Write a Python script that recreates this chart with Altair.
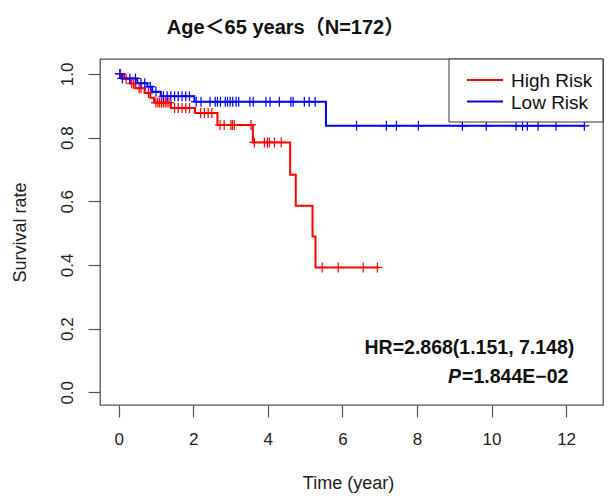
import altair as alt
import pandas as pd

FONT = "Liberation Sans, Arial, Noto Sans CJK SC, sans-serif"

groups = ["High Risk", "Low Risk"]
colors = ["#FF0000", "#0000FF"]

# Kaplan-Meier step curves (time of step, survival after step)
high_t = [0, 0.15, 0.3, 0.45, 0.7, 0.85, 0.95, 1.4, 2.05, 2.65, 3.6, 4.6, 4.75, 5.2, 5.28]
high_s = [1.0, 0.985, 0.970, 0.955, 0.940, 0.925, 0.910, 0.893, 0.877, 0.840, 0.785, 0.683, 0.586, 0.489, 0.392]
high_end = 6.97
high_cens = [0.05, 0.2, 0.35, 0.4, 0.55, 0.6, 0.8, 1.0, 1.05, 1.1, 1.15, 1.2, 1.25, 1.3, 1.35,
             1.5, 1.6, 1.7, 1.8, 1.9, 2.2, 2.3, 2.4, 2.5,
             2.72, 2.83, 3.01, 3.05, 3.10, 3.55,
             3.64, 3.91, 3.99, 4.04, 4.18, 4.36,
             5.46, 5.89, 6.56, 6.94]

low_t = [0, 0.07, 0.5, 0.77, 0.9, 1.13, 2.03, 5.56]
low_s = [1.0, 0.986, 0.971, 0.960, 0.944, 0.930, 0.913, 0.837]
low_end = 12.49
low_cens = [0.03, 0.1, 0.3, 0.45, 0.6, 0.7, 0.85, 1.0, 1.2, 1.3, 1.4, 1.5, 1.6, 1.7, 1.8, 1.9,
            2.08, 2.21, 2.45, 2.59, 2.65, 2.73, 2.86, 2.92, 2.99, 3.06, 3.15, 3.22, 3.52, 3.61,
            3.95, 4.06, 4.31, 4.62, 4.68, 4.98, 5.11, 5.27,
            6.38, 7.18, 7.45, 8.04, 9.22, 9.86, 10.66, 10.83, 10.96, 11.25, 11.73, 12.49]

hr_text = "HR=2.868(1.151, 7.148)"
p_label = "P"
p_text = "=1.844E\u221202"
title_text = "Age\uff1c65 years\uff08N=172\uff09"

x_ticks = [0, 2, 4, 6, 8, 10, 12]
y_ticks = [0.0, 0.2, 0.4, 0.6, 0.8, 1.0]


def surv_at(ts, ss, c):
    v = ss[0]
    for t, s in zip(ts, ss):
        if t <= c:
            v = s
    return v


line_rows, cens_rows = [], []
for g, ts, ss, end, cens in [("High Risk", high_t, high_s, high_end, high_cens),
                              ("Low Risk", low_t, low_s, low_end, low_cens)]:
    for t, s in zip(ts, ss):
        line_rows.append({"time": t, "surv": s, "group": g})
    line_rows.append({"time": end, "surv": ss[-1], "group": g})
    for c in cens:
        cens_rows.append({"time": c, "surv": surv_at(ts, ss, c), "group": g})

line_df = pd.DataFrame(line_rows)
cens_df = pd.DataFrame(cens_rows)

xs = alt.Scale(domain=[-0.5, 12.99], nice=False, zero=False)
ys = alt.Scale(domain=[-0.04, 1.047], nice=False, zero=False)

xaxis = alt.Axis(values=x_ticks, title="Time (year)", format="d", labelPadding=14,
                 titleX=248, titleY=78, titleBaseline="middle", titleAlign="center",
                 titleFontWeight="normal")
yaxis = alt.Axis(values=y_ticks, title="Survival rate", format=".1f", labelAngle=270,
                 labelAlign="center", labelBaseline="bottom", labelPadding=12,
                 titleX=-80, titleY=173, titleAngle=270, titleBaseline="middle",
                 titleAlign="center", titleFontWeight="normal")

xenc = alt.X("time:Q", scale=xs, axis=xaxis)
yenc = alt.Y("surv:Q", scale=ys, axis=yaxis)
cscale = alt.Scale(domain=groups, range=colors)

lines = alt.Chart(line_df).mark_line(interpolate="step-after", strokeWidth=2).encode(
    x=xenc, y=yenc,
    color=alt.Color("group:N", scale=cscale, legend=None),
)

cens = alt.Chart(cens_df).mark_point(shape="M0,-1L0,1M-1,0L1,0", filled=False, size=100,
                                     strokeWidth=1.2, opacity=1).encode(
    x=xenc, y=yenc,
    stroke=alt.Stroke("group:N", scale=cscale, legend=None),
)

ANN = dict(fontSize=19.5, fontWeight="bold", font=FONT, color="#111", baseline="middle")
hr = alt.Chart(pd.DataFrame({"time": [12.22], "surv": [0.140], "label": [hr_text]})).mark_text(
    align="right", **ANN).encode(x=xenc, y=yenc, text="label:N")
pv = alt.Chart(pd.DataFrame({"time": [9.21], "surv": [0.049], "label": [p_text]})).mark_text(
    align="left", **ANN).encode(x=xenc, y=yenc, text="label:N")
pp = alt.Chart(pd.DataFrame({"time": [9.21], "surv": [0.049], "label": [p_label]})).mark_text(
    align="right", fontStyle="italic", dx=-1, **ANN).encode(x=xenc, y=yenc, text="label:N")

# legend box (drawn as a key, top-right inside the plot frame)
one = pd.DataFrame({"k": [0]})
leg_layers = [alt.Chart(one).mark_rect(fill="white", stroke="#333", strokeWidth=1).encode(
    x=alt.value(349), x2=alt.value(503), y=alt.value(0), y2=alt.value(63))]
for i, (g, c) in enumerate(zip(groups, colors)):
    yy = 21 + i * 21.5
    leg_layers.append(alt.Chart(one).mark_rule(strokeWidth=2, color=c).encode(
        x=alt.value(367), x2=alt.value(403), y=alt.value(yy)))
    leg_layers.append(alt.Chart(one).mark_text(align="left", baseline="middle", fontSize=19,
                                                font=FONT, color="#111").encode(
        x=alt.value(411), y=alt.value(yy + 1), text=alt.value(g)))

chart = alt.layer(lines, cens, hr, pv, pp, *leg_layers).properties(
    width=503, height=346,
    autosize=alt.AutoSizeParams(type="none"),
    padding={"left": 100, "top": 59, "right": 5, "bottom": 96},
    title=alt.TitleParams(title_text, fontSize=20, fontWeight="bold", font=FONT,
                          anchor="middle", dx=-66, baseline="alphabetic", offset=5,
                          color="#111"),
    background="white",
).configure_view(stroke="#555", strokeWidth=1.3).configure_axis(
    domain=False, grid=False, tickColor="#555", tickSize=12, tickWidth=1.2,
    labelFontSize=17, labelFont=FONT, labelColor="#222",
    titleFontSize=18, titleFont=FONT, titleColor="#222",
)

chart.save("out.html", embed_options={"renderer": "svg", "actions": False})
